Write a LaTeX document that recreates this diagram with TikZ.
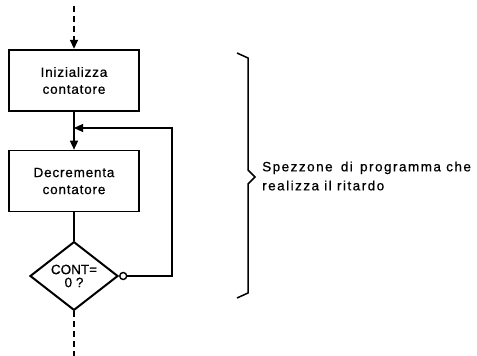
\documentclass[tikz,border=0pt]{standalone}
\usepackage{fontspec}
\setmainfont{Liberation Sans}[LetterSpace=6,FakeBold=0.6]
\newfontfamily\capfont{Liberation Sans}[LetterSpace=11,FakeBold=0.6]
\newfontfamily\testfont{Liberation Sans}[LetterSpace=0,FakeBold=0.6]
\usetikzlibrary{arrows.meta,shapes.geometric}
\begin{document}
\begin{tikzpicture}[x=1pt,y=-1pt,
  every node/.style={font=\fontsize{13.5}{17}\selectfont},
  stepbox/.style={draw,minimum width=130pt,minimum height=61pt,align=center,inner sep=0pt},
  flow/.style={line width=1.5pt,-{Triangle[length=9pt,width=8pt]}},
  loopline/.style={line width=1.1pt},
  dashline/.style={line width=1.4pt,dash pattern=on 6pt off 4pt}]
\useasboundingbox (0,0) rectangle (477,356);
% process boxes
\node[stepbox,line width=2.4pt] (init) at (74,80.5) {Inizializza\\contatore};
\node[stepbox,line width=1.6pt] (dec) at (74,181) {Decrementa\\contatore};
% decision
\node[diamond,draw,line width=2pt,minimum width=88pt,minimum height=49pt,inner sep=0pt,align=center,
  font=\testfont\fontsize{13.5}{13}\selectfont] (test) at (74,276) {CONT=\\0 ?};
\node[circle,draw,line width=1.4pt,minimum size=7pt,inner sep=0pt,anchor=west] (neg) at (test.east) {};
% entry and exit
\coordinate (in) at (74,6);
\coordinate (out) at (74,356);
\draw[dashline] (in) -- (74,40);
\draw[flow] (74,38) -- (init.north);
\draw[dashline] (test.south) -- (out);
% flow
\coordinate (join) at (74,128);
\coordinate (corner1) at (172,276);
\coordinate (corner2) at (172,128);
\draw[flow] (init.south) -- (dec.north);
\draw[line width=1.5pt] (dec.south) -- (test.north);
\draw[loopline] (neg.east) -- (corner1) -- (corner2) -- (76,128);
\draw[line width=1.1pt,{Triangle[length=9pt,width=8pt]}-] (join) -- (90,128);
% brace and caption
\coordinate (bt) at (237,53);
\coordinate (bb) at (237,298);
\draw[line width=1.5pt,line join=miter] (bt) -- (248,58) -- (248,170) -- (255,177) -- (248,184) -- (248,293) -- (bb);
\node[anchor=west,align=left,inner sep=0pt,font=\capfont\fontsize{13.5}{19}\selectfont] (cap) at (262,176) {Spezzone\hspace{3pt} di\hspace{2pt} programma che\\realizza il ritardo};
\end{tikzpicture}
\end{document}
